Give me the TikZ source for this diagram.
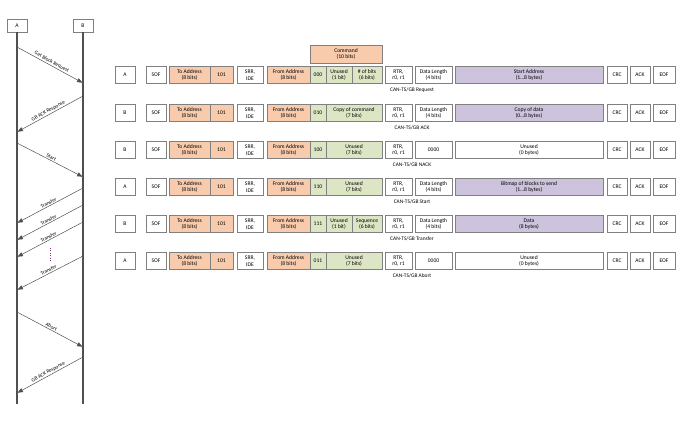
\documentclass[tikz,border=0pt]{standalone}
\usepackage{fontspec}
\setmainfont{Carlito}
\usepackage{xcolor}
\usepackage{tikz}
\usetikzlibrary{arrows.meta}
\usetikzlibrary{shadows}

\definecolor{peach}{HTML}{F8CBAD}
\definecolor{sage}{HTML}{DDE6C4}
\definecolor{lilac}{HTML}{CDC3DD}
\definecolor{edgegray}{HTML}{808080}
\definecolor{lifegray}{HTML}{505050}

\tikzset{
  field/.style={draw=edgegray, line width=0.6pt, minimum height=17, inner sep=0pt, outer sep=0pt,
    align=center, font=\fontsize{5.6}{6.4}\selectfont, text=black},
  plain/.style={field, fill=white, general shadow={fill=black!25, shadow xshift=0.8pt, shadow yshift=-0.8pt}},
  addr/.style={field, fill=peach},
  cmd/.style={field, fill=sage},
  payload/.style={field, fill=lilac},
  framename/.style={font=\fontsize{5.4}{6}\selectfont, text=black, inner sep=1pt},
  lifeline/.style={draw=lifegray, line width=1.8pt},
  msg/.style={draw=lifegray, line width=0.5pt, -{Latex[length=6pt,width=4.5pt]}},
  msglabel/.style={sloped, above, font=\fontsize{5.2}{5.6}\selectfont, text=black, inner sep=1pt}
}

\begin{document}
\begin{tikzpicture}[x=1pt, y=-1pt]
            \useasboundingbox (0,0) rectangle (687,420);

            % Lifelines
            \node[plain, minimum width=20, minimum height=13] (A) at (17,26) {A};
            \node[plain, minimum width=20, minimum height=13] (B) at (83,26) {B};
            \coordinate (Aend) at (17,404);
            \coordinate (Bend) at (83,404);
            \draw[lifeline] (A) -- (Aend);
            \draw[lifeline] (B) -- (Bend);

            % Messages
            \coordinate (a1) at (17,47);  \coordinate (b1) at (83,83);
            \coordinate (b2) at (83,96);  \coordinate (a2) at (17,132);
            \coordinate (a3) at (17,143); \coordinate (b3) at (83,177);
            \coordinate (b4) at (83,188); \coordinate (a4) at (17,223);
            \coordinate (b5) at (83,205); \coordinate (a5) at (17,240);
            \coordinate (b6) at (83,222); \coordinate (a6) at (17,257);
            \coordinate (b7) at (83,256); \coordinate (a7) at (17,290);
            \coordinate (a8) at (17,312); \coordinate (b8) at (83,347);
            \coordinate (b9) at (83,357); \coordinate (a9) at (17,393);
            \draw[msg] (a1) -- node[msglabel] {Get Block Request} (b1);
            \draw[msg] (b2) -- node[msglabel] {GB ACK Response} (a2);
            \draw[msg] (a3) -- node[msglabel] {Start} (b3);
            \draw[msg] (b4) -- node[msglabel] {Transfer} (a4);
            \draw[msg] (b5) -- node[msglabel] {Transfer} (a5);
            \draw[msg] (b6) -- node[msglabel] {Transfer} (a6);
            \draw[msg] (b7) -- node[msglabel] {Transfer} (a7);
            \draw[msg] (a8) -- node[msglabel] {Abort} (b8);
            \draw[msg] (b9) -- node[msglabel] {GB ACK Response} (a9);

            % More transfers
            \coordinate (dots1) at (50,248);
            \coordinate (dots2) at (50,262);
            \draw[dotted, violet!60!gray] (dots1) -- (dots2);

            % Frames, common fields
            \foreach \y/\who/\code/\kind/\r in {75/A/000/Request/1, 113/B/010/ACK/2, 150/B/100/NACK/3,
                                                 187/A/110/Start/4, 224/B/111/Transfer/5, 261/A/011/Abort/6} {
              \node[plain, minimum width=20] (who\r) at (125,\y) {\who};
              \node[plain, minimum width=20] (sof\r) at (156,\y) {SOF};
              \node[addr, minimum width=41] (to\r) at (189.5,\y) {To Address\\(8 bits)};
              \node[addr, minimum width=23] (pri\r) at (221.5,\y) {101};
              \node[plain, minimum width=26] (srr\r) at (250,\y) {SRR,\\IDE};
              \node[addr, minimum width=43] (from\r) at (288.5,\y) {From Address\\(8 bits)};
              \node[cmd, minimum width=16] (code\r) at (318,\y) {\code};
              \node[plain, minimum width=27] (rtr\r) at (398.5,\y) {RTR,\\r0, r1};
              \node[plain, minimum width=20] (crc\r) at (617,\y) {CRC};
              \node[plain, minimum width=20] (ack\r) at (640,\y) {ACK};
              \node[plain, minimum width=22] (eof\r) at (664,\y) {EOF};
              \node[framename] (name\r) at (412,\y+15) {CAN-TS/GB \kind};
            }

            % Request
            \node[addr, minimum width=72, minimum height=18] (command) at (346,54) {Command\\(10 bits)};
            \node[cmd, minimum width=26] (unused1) at (339,75) {Unused\\(1 bit)};
            \node[cmd, minimum width=30] (nbits1) at (367,75) {\# of bits\\(6 bits)};
            \node[plain, minimum width=37] (dlc1) at (433.5,75) {Data Length\\(4 bits)};
            \node[payload, minimum width=148] (data1) at (529,75) {Start Address\\(1\ldots8 bytes)};

            % ACK
            \node[cmd, minimum width=56] (copy2) at (354,113) {Copy of command\\(7 bits)};
            \node[plain, minimum width=37] (dlc2) at (433.5,113) {Data Length\\(4 bits)};
            \node[payload, minimum width=148] (data2) at (529,113) {Copy of data\\(0\ldots8 bytes)};

            % NACK
            \node[cmd, minimum width=56] (unused3) at (354,150) {Unused\\(7 bits)};
            \node[plain, minimum width=37] (dlc3) at (433.5,150) {0000};
            \node[plain, minimum width=148] (data3) at (529,150) {Unused\\(0 bytes)};

            % Start
            \node[cmd, minimum width=56] (unused4) at (354,187) {Unused\\(7 bits)};
            \node[plain, minimum width=37] (dlc4) at (433.5,187) {Data Length\\(4 bits)};
            \node[payload, minimum width=148] (data4) at (529,187) {Bitmap of blocks to send\\(1\ldots8 bytes)};

            % Transfer
            \node[cmd, minimum width=26] (unused5) at (339,224) {Unused\\(1 bit)};
            \node[cmd, minimum width=30] (seq5) at (367,224) {Sequence\\(6 bits)};
            \node[plain, minimum width=37] (dlc5) at (433.5,224) {Data Length\\(4 bits)};
            \node[payload, minimum width=148] (data5) at (529,224) {Data\\(8 bytes)};

            % Abort
            \node[cmd, minimum width=56] (unused6) at (354,261) {Unused\\(7 bits)};
            \node[plain, minimum width=37] (dlc6) at (433.5,261) {0000};
            \node[plain, minimum width=148] (data6) at (529,261) {Unused\\(0 bytes)};
        \end{tikzpicture}
\end{document}
